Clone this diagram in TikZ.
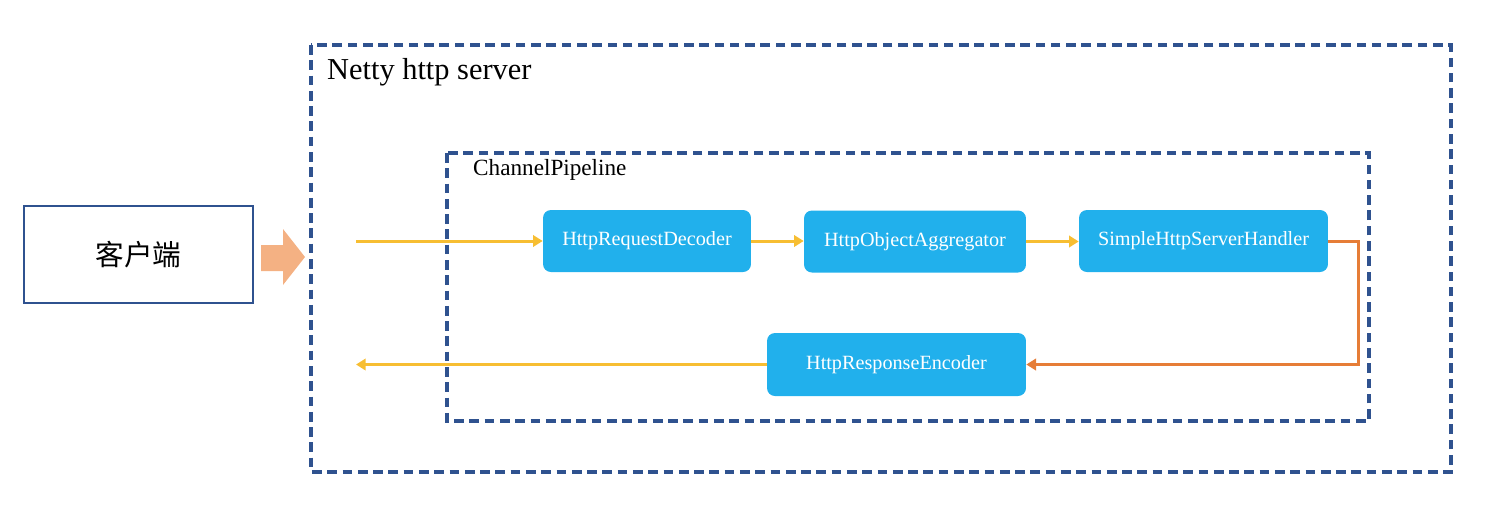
\documentclass[tikz,border=0pt]{standalone}
\usepackage{fontspec}
\setmainfont{Liberation Serif}
\newfontfamily\cjk{Noto Sans CJK SC}
\usetikzlibrary{calc,arrows.meta,positioning}

\definecolor{frameblue}{RGB}{47,82,143}
\definecolor{boxblue}{RGB}{33,176,236}
\definecolor{flowyellow}{RGB}{247,190,50}
\definecolor{replyorange}{RGB}{230,125,55}
\definecolor{pushsalmon}{RGB}{244,177,131}

\tikzset{
  handler/.style={fill=boxblue, rounded corners=4.5pt, text=white,
    font=\fontsize{11.5}{13}\selectfont, inner sep=0pt},
  flow/.style={draw=flowyellow, line width=1.7pt, -{Triangle[length=5.5pt,width=6.5pt]}},
  reply/.style={draw=replyorange, line width=1.7pt, -{Triangle[length=5.5pt,width=6.5pt]}},
  frame/.style={draw=frameblue, line width=2pt, dash pattern=on 5.5pt off 3.2pt},
}

\begin{document}
\begin{tikzpicture}[x=0.02cm,y=-0.02cm]
\useasboundingbox (0,0) rectangle (1500,508);
% frames
\draw[frame] (311,45) rectangle (1451,472);
\draw[frame] (447,153) rectangle (1369,421);
\node[anchor=west, font=\fontsize{17.3}{20}\selectfont] (server) at (321,72) {Netty http server};
\node[anchor=west, font=\fontsize{13.2}{16}\selectfont] (pipeline) at (467,170) {ChannelPipeline};

% client
\node[draw=frameblue, line width=0.7pt, minimum width=4.58cm, minimum height=1.94cm,
  font=\cjk\fontsize{16.3}{20}\selectfont] (client) at (138.5,254.5) {客户端};
\fill[pushsalmon] (261,245) -- (283,245) -- (283,229) -- (305,257) -- (283,285) -- (283,271) -- (261,271) -- cycle;

% handlers
\node[handler, minimum width=4.16cm, minimum height=1.24cm] (decoder) at (647,241) {HttpRequestDecoder};
\node[handler, minimum width=4.44cm, minimum height=1.24cm] (aggregator) at (915,241.5) {HttpObjectAggregator};
\node[handler, minimum width=4.98cm, minimum height=1.24cm] (shandler) at (1203.5,241) {SimpleHttpServerHandler};
\node[handler, minimum width=5.18cm, minimum height=1.26cm] (encoder) at (896.5,364.5) {HttpResponseEncoder};

\coordinate (in) at (356,241);
\coordinate (out) at (356,364.5);

% connectors
\draw[flow] (in) -- (decoder.west);
\draw[flow] (decoder.east) -- (decoder.east -| aggregator.west);
\draw[flow] (aggregator.east) -- (aggregator.east -| shandler.west);
\draw[reply] (shandler.east) -- ++(30,0) |- (encoder.east);
\draw[flow] (encoder.west) -- (out);
\end{tikzpicture}
\end{document}
